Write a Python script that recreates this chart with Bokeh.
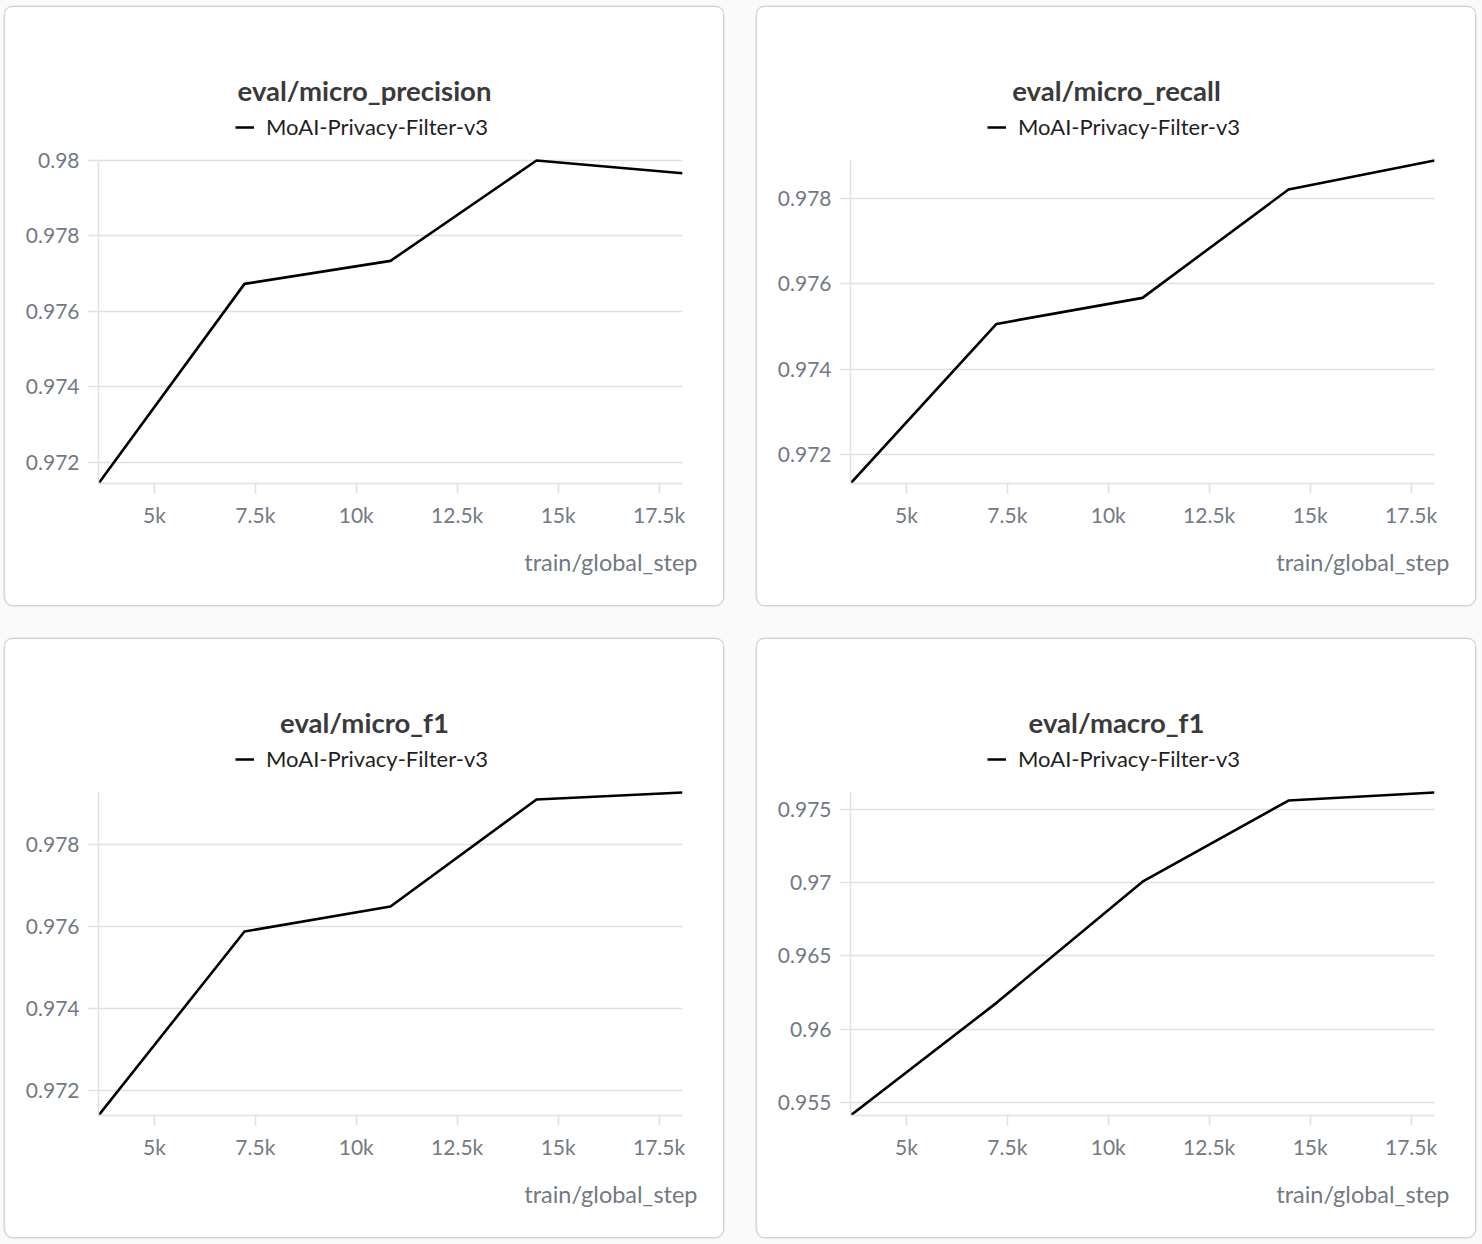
from bokeh.embed import file_html
from bokeh.resources import INLINE
from bokeh.plotting import figure
from bokeh.layouts import column, row
from bokeh.models import (Range1d, FixedTicker, NumeralTickFormatter, Label,
                          Legend, LegendItem, Title)

# data
steps = [3616, 7232, 10848, 14464, 18080]
micro_precision = [0.97144, 0.97673, 0.97734, 0.98, 0.97966]
micro_recall = [0.97132, 0.97506, 0.97567, 0.97821, 0.97889]
micro_f1 = [0.97139, 0.97588, 0.97649, 0.9791, 0.97927]
macro_f1 = [0.95411, 0.9618, 0.97007, 0.97561, 0.97616]

x_ticks = [5000, 7500, 10000, 12500, 15000, 17500]
precision_ticks = [0.972, 0.974, 0.976, 0.978, 0.98]
recall_ticks = [0.972, 0.974, 0.976, 0.978]
f1_ticks = [0.972, 0.974, 0.976, 0.978]
macro_ticks = [0.955, 0.96, 0.965, 0.97, 0.975]

run_name = "MoAI-Privacy-Filter-v3"
x_label = "train/global_step"

FONT = "Lato"
GRID = "#e0e0e2"
TICK_TEXT = "#737984"

W, H = 718, 598
LEFT, RIGHT, TOP, BOTTOM = 93, 41, 40, 122
DATA_TOP = 153  # where the highest value sits, px from the panel top


def make_panel(title, values, yticks):
    lo, hi = min(values), max(values)
    # the frame reaches up behind title and legend; data fills only the lower part
    frame_h = H - TOP - BOTTOM
    data_h = H - DATA_TOP - BOTTOM
    y_end = lo + (hi - lo) * frame_h / data_h

    p = figure(width=W, height=H, output_backend="svg", toolbar_location=None,
               x_range=Range1d(steps[0], steps[-1]),
               y_range=Range1d(lo, y_end),
               min_border_left=LEFT, min_border_right=RIGHT,
               min_border_top=TOP, min_border_bottom=BOTTOM,
               styles={"border-radius": "8px", "overflow": "hidden",
                       "box-shadow": "0 0 0 1.5px #d6d6da"})
    p.outline_line_color = None
    p.background_fill_color = "white"
    p.border_fill_color = "white"

    r = p.line(steps, values, line_color="black", line_width=2.6)

    p.xaxis.ticker = FixedTicker(ticks=x_ticks)
    p.xaxis.formatter = NumeralTickFormatter(format="0.[0]a")
    p.yaxis.ticker = FixedTicker(ticks=yticks)
    p.yaxis.formatter = NumeralTickFormatter(format="0.[000]")
    p.yaxis.bounds = (lo, hi)

    for ax in (p.xaxis, p.yaxis):
        ax.axis_line_color = GRID
        ax.axis_line_width = 1.5
        ax.major_tick_line_color = GRID
        ax.major_tick_line_width = 1.5
        ax.major_tick_out = 10
        ax.major_tick_in = 0
        ax.minor_tick_line_color = None
        ax.major_label_text_font = FONT
        ax.major_label_text_font_size = "21px"
        ax.major_label_text_color = TICK_TEXT
    p.yaxis.major_label_standoff = 9
    p.xaxis.major_label_standoff = 8

    p.xgrid.grid_line_color = None
    p.ygrid.grid_line_color = GRID
    p.ygrid.grid_line_width = 1.5

    # title and legend in screen units from the frame's bottom-left corner
    p.add_layout(Label(x=266, y=393, x_units="screen", y_units="screen", text=title,
                       text_align="center", text_baseline="middle", text_font=FONT,
                       text_font_size="27.5px", text_font_style="bold", text_color="#3a3a3c"))

    legend = Legend(items=[LegendItem(label=run_name, renderers=[r])],
                    location=(137, 343), orientation="horizontal",
                    glyph_width=19, glyph_height=20, label_standoff=12,
                    padding=0, margin=0, border_line_color=None,
                    background_fill_alpha=0, label_text_font=FONT,
                    label_text_font_size="22px", label_text_color="#1f1f1f")
    p.add_layout(legend)

    p.add_layout(Title(text=x_label, align="right", offset=-15, standoff=32,
                       text_font=FONT, text_font_size="23.5px", text_font_style="normal",
                       text_color=TICK_TEXT), "below")
    return p


p1 = make_panel("eval/micro_precision", micro_precision, precision_ticks)
p2 = make_panel("eval/micro_recall", micro_recall, recall_ticks)
p3 = make_panel("eval/micro_f1", micro_f1, f1_ticks)
p4 = make_panel("eval/macro_f1", macro_f1, macro_ticks)

p = column(row(p1, p2, spacing=34), row(p3, p4, spacing=34), spacing=34,
           styles={"background-color": "#fafafa", "margin-left": "5px",
                   "margin-top": "7px", "box-shadow": "0 0 0 14px #fafafa"})

open("out.html", "w").write(file_html(p, INLINE))
